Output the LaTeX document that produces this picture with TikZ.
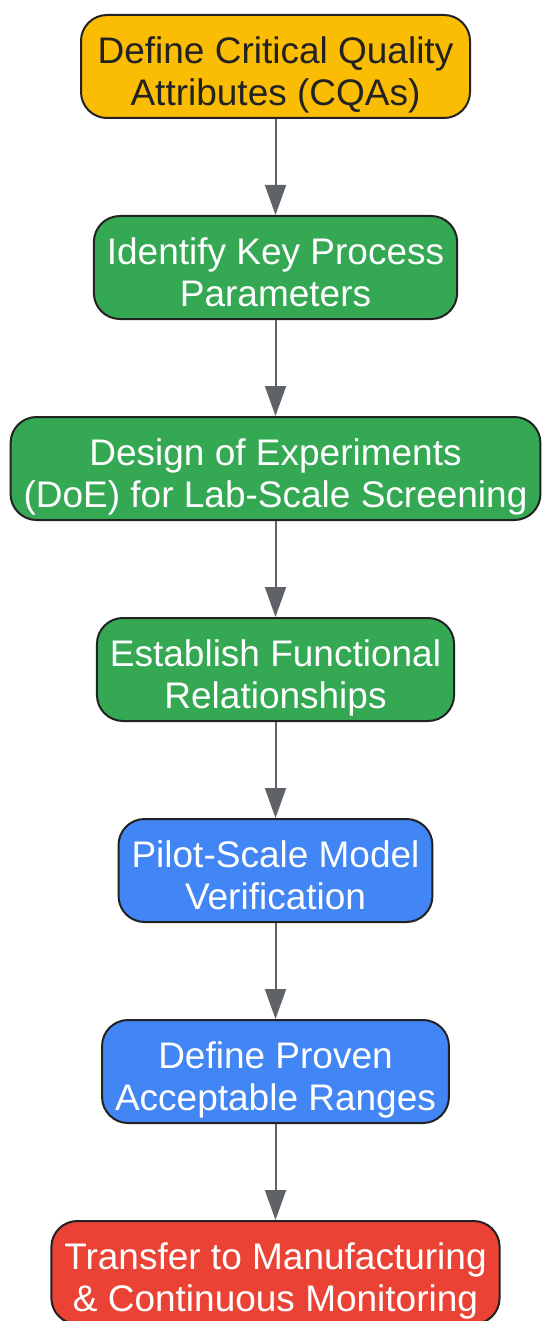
\documentclass[tikz,border=0pt]{standalone}
\usepackage{fontspec}
\setmainfont{Liberation Sans}
\usetikzlibrary{positioning,arrows.meta}

\definecolor{gyellow}{HTML}{FBBC04}
\definecolor{ggreen}{HTML}{34A853}
\definecolor{gblue}{HTML}{4285F4}
\definecolor{gred}{HTML}{EA4335}
\definecolor{edgegray}{HTML}{5F6368}
\definecolor{inkdark}{HTML}{222222}

\tikzset{
  stage/.style={draw=inkdark, line width=2pt, rounded corners=26pt,
    minimum height=103pt, inner xsep=13pt, inner ysep=0pt, align=center,
    font=\fontsize{37}{42}\selectfont, text=white,
    text height=86pt, text depth=8.2pt},
  flow/.style={draw=edgegray, line width=2pt,
    -{Triangle[length=30pt,width=21pt]}},
}

\begin{document}
\begin{tikzpicture}[x=1pt,y=1pt,node distance=96pt]
  \useasboundingbox (0,0) rectangle (542,-1321);

  \node[stage, fill=gyellow, text=inkdark, minimum width=389pt] (cqa) at (275.5,-66.5)
    {Define Critical Quality\\Attributes (CQAs)};
  \node[stage, fill=ggreen, below=of cqa] (kpp)
    {Identify Key Process\\Parameters};
  \node[stage, fill=ggreen, below=of kpp] (doe)
    {Design of Experiments\\(DoE) for Lab-Scale Screening};
  \node[stage, fill=ggreen, below=of doe] (rel)
    {Establish Functional\\Relationships};
  \node[stage, fill=gblue, below=of rel] (pilot)
    {Pilot-Scale Model\\Verification};
  \node[stage, fill=gblue, below=of pilot] (par)
    {Define Proven\\Acceptable Ranges};
  \node[stage, fill=gred, below=of par] (xfer)
    {Transfer to Manufacturing\\\& Continuous Monitoring};

  \draw[flow] (cqa) -- (kpp);
  \draw[flow] (kpp) -- (doe);
  \draw[flow] (doe) -- (rel);
  \draw[flow] (rel) -- (pilot);
  \draw[flow] (pilot) -- (par);
  \draw[flow] (par) -- (xfer);
\end{tikzpicture}
\end{document}
